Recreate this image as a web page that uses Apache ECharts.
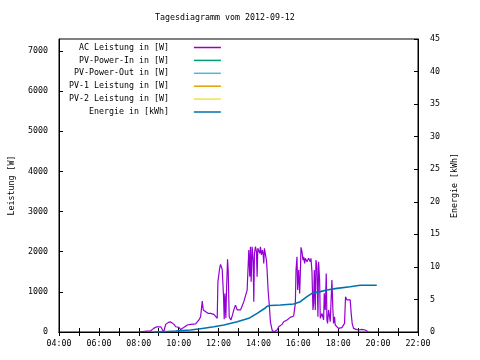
<!DOCTYPE html>
<html><head><meta charset="utf-8">
<script src="https://cdn.jsdelivr.net/npm/echarts@6/dist/echarts.min.js"></script>
<style>html,body{margin:0;padding:0;background:#fff}#c{width:480px;height:360px}</style>
</head><body><div id="c"></div>
<script>
const chartTitle = "Tagesdiagramm vom 2012-09-12";
const seriesNames = ["AC Leistung in [W]","PV-Power-In in [W]","PV-Power-Out in [W]","PV-1 Leistung in [W]","PV-2 Leistung in [W]","Energie in [kWh]"];
const seriesColors = ["#9400d3","#009e73","#56b4e9","#e69f00","#f0e442","#0072b2"];

const acTimes = ["08:00","08:24","08:36","08:45","08:54","09:00","09:06","09:12","09:15","09:21",
"09:29","09:36","09:41","09:46","09:51","09:56","10:01","10:06","10:15","10:26",
"10:36","10:41","10:51","11:01","11:06","11:11","11:14","11:19","11:28","11:36",
"11:46","11:51","11:56","11:58","12:03","12:06","12:11","12:15","12:17","12:19",
"12:22","12:24","12:27","12:29","12:32","12:37","12:41","12:46","12:51","12:56",
"13:01","13:06","13:11","13:16","13:21","13:26","13:31","13:34","13:36","13:38",
"13:41","13:44","13:46","13:48","13:51","13:54","13:56","13:58","14:01","14:04",
"14:06","14:09","14:12","14:14","14:16","14:18","14:21","14:24","14:26","14:29",
"14:33","14:36","14:41","14:46","14:51","14:56","15:01","15:06","15:11","15:16",
"15:21","15:26","15:31","15:36","15:41","15:46","15:49","15:51","15:53","15:56",
"15:58","16:01","16:04","16:06","16:08","16:11","16:14","16:16","16:19","16:21",
"16:26","16:31","16:34","16:36","16:38","16:41","16:44","16:46","16:48","16:51",
"16:53","16:56","16:59","17:01","17:04","17:06","17:09","17:11","17:16","17:18",
"17:21","17:24","17:26","17:28","17:31","17:34","17:36","17:41","17:44","17:46",
"17:49","17:51","17:56","18:01","18:06","18:11","18:16","18:19","18:22","18:26",
"18:29","18:32","18:36","18:39","18:42","18:46","18:54","19:01","19:06","19:11",
"19:16","19:21","19:26","19:31"];
const acWatts = [0,20,30,90,130,150,130,120,0,190,
240,250,215,190,130,110,117,60,110,175,
190,150,200,300,380,770,550,505,465,465,
440,400,340,1250,1570,1685,1560,880,315,960,
350,1045,1810,1545,380,300,400,550,670,550,
520,550,590,755,780,1045,2040,1380,2125,1250,
2125,1790,755,1960,2125,2000,1380,2085,2125,1960,
2125,1920,2040,1960,1710,2085,2040,1790,1545,1045,
630,255,50,0,10,50,130,175,190,255,
280,300,330,365,365,400,425,715,1545,1875,
1045,1545,960,1460,2110,2000,1790,1875,1710,1835,
1750,1835,1800,1750,1835,1500,550,715,1545,550,
1790,1625,380,1750,1295,340,300,465,300,965,
550,1460,300,215,550,380,255,1295,550,215,
380,175,130,90,90,110,130,215,880,800,
830,755,800,465,215,90,65,50,80,65,
70,50,15,0];

const energyTimes = ["08:45","09:15","09:51","10:36","11:11","11:46","12:16","12:56","13:31","13:36",
"13:56","14:16","14:26","14:36","15:06","15:46","16:06","16:26","16:41","17:06",
"17:26","17:56","18:36","19:06","19:56"];
const energyKWh = [0,0.05,0.15,0.3,0.55,0.8,1.07,1.58,2.1,2.26,
2.87,3.53,3.95,4.08,4.15,4.3,4.65,5.42,5.94,6.2,
6.45,6.7,6.96,7.17,7.17];

const hourTicks = ["04:00","06:00","08:00","10:00","12:00","14:00","16:00","18:00","20:00","22:00"];
const leftTicks = [0,1000,2000,3000,4000,5000,6000,7000];
const rightTicks = [0,5,10,15,20,25,30,35,40,45];

function toH(s){const p=s.split(":");return +p[0]+ +p[1]/60;}
const FONT = "DejaVu Sans Mono";
const FS = 8.3;
const maxLen = Math.max(...seriesNames.map(s=>s.length));

const chart = echarts.init(document.getElementById('c'), null, {renderer:'canvas'});
const lineSeries = seriesNames.map((n,i)=>({
  name:n, type:'line', symbol:'none', showSymbol:false, animation:false,
  yAxisIndex: i===5?1:0,
  xAxisIndex: 0,
  lineStyle:{color:seriesColors[i], width: i===5?1.6:1.2},
  itemStyle:{color:seriesColors[i]},
  data: i===0 ? acTimes.map((t,k)=>[toH(t),acWatts[k]]) :
        i===5 ? energyTimes.map((t,k)=>[toH(t),energyKWh[k]]) : []
}));

chart.setOption({
  animation:false,
  backgroundColor:'#fff',
  textStyle:{fontFamily:FONT,fontSize:FS,color:'#000'},
  title:{text:chartTitle,left:150,top:9,textStyle:{fontFamily:FONT,fontSize:FS,fontWeight:'normal',color:'#000'}},
  legend:{
    orient:'vertical', left:64, top:37.5, align:'right',
    icon:'rect', itemWidth:27, itemHeight:1.5, itemGap:2.9,
    data: seriesNames,
    formatter: n => n.padStart(maxLen,' ') + '    ',
    textStyle:{fontFamily:FONT,fontSize:FS,color:'#000',padding:0,lineHeight:10}
  },
  grid:{left:58,right:62,top:39,bottom:28,show:true,borderColor:'#000',borderWidth:1,containLabel:false},
  xAxis:[{
    type:'value', min:4, max:22, interval:1, position:'bottom',
    axisLine:{show:true,lineStyle:{color:'#000',width:1}},
    axisTick:{show:true,inside:true,length:4,lineStyle:{color:'#000'}},
    splitLine:{show:false},
    axisLabel:{margin:8,color:'#000',fontFamily:FONT,fontSize:FS,
      formatter:v=>{const s=(v<10?'0':'')+v+':00';return hourTicks.indexOf(s)>=0?s:'';}}
  },{
    type:'value', min:4, max:22, interval:1, position:'top',
    axisLine:{show:true,lineStyle:{color:'#000'}},
    axisTick:{show:true,inside:true,length:4,lineStyle:{color:'#000'}},
    axisLabel:{show:false}, splitLine:{show:false}
  }],
  yAxis:[{
    type:'value', min:0, max:7300, interval:1000, position:'left',
    name:'Leistung [W]', nameLocation:'middle', nameGap:43, nameRotate:90,
    nameTextStyle:{fontFamily:FONT,fontSize:FS,color:'#000'},
    axisLine:{show:true,lineStyle:{color:'#000'}},
    axisTick:{show:true,inside:true,length:4,lineStyle:{color:'#000'}},
    splitLine:{show:false},
    axisLabel:{margin:11,color:'#000',fontFamily:FONT,fontSize:FS,showMaxLabel:false,
      formatter:v=>leftTicks.indexOf(v)>=0?String(v):''}
  },{
    type:'value', min:0, max:45, interval:5, position:'right',
    name:'Energie [kWh]', nameLocation:'middle', nameGap:32, nameRotate:90,
    nameTextStyle:{fontFamily:FONT,fontSize:FS,color:'#000'},
    axisLine:{show:true,lineStyle:{color:'#000'}},
    axisTick:{show:true,inside:true,length:4,lineStyle:{color:'#000'}},
    splitLine:{show:false},
    axisLabel:{margin:12,color:'#000',fontFamily:FONT,fontSize:FS,
      formatter:v=>rightTicks.indexOf(v)>=0?String(v):''}
  }],
  series: lineSeries
});
</script></body></html>
